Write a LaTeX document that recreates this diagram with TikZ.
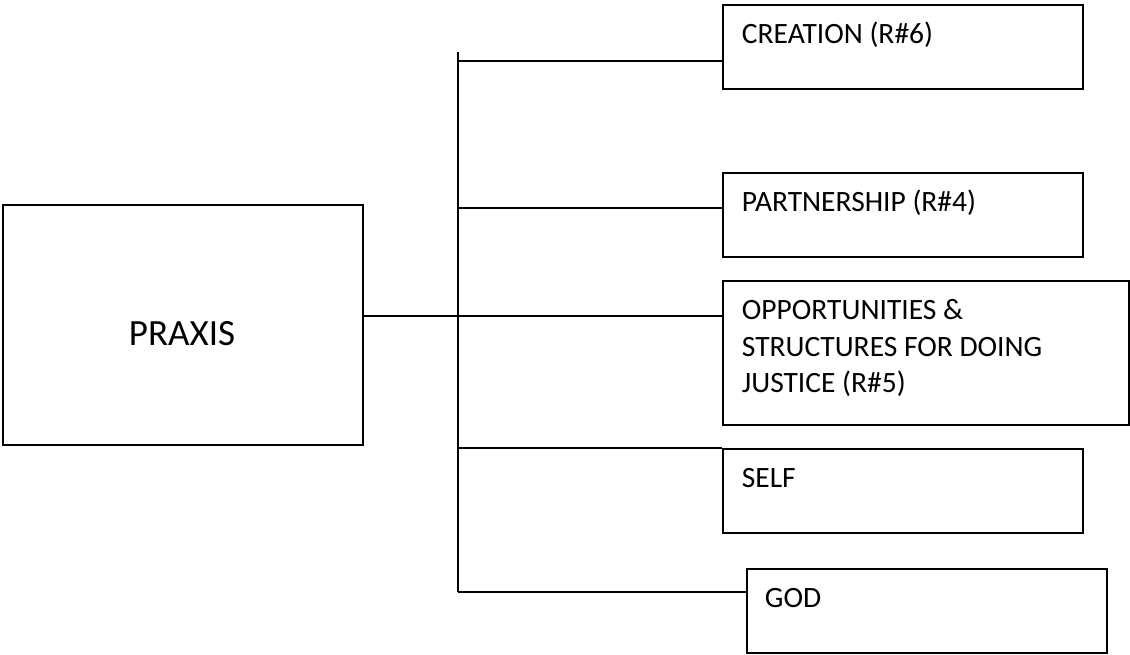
\documentclass[tikz,border=0pt]{standalone}
\usepackage{fontspec}
\setmainfont{Carlito}
\usetikzlibrary{positioning}

\begin{document}
\begin{tikzpicture}[x=1pt, y=-1pt, line width=1.8pt,
    box/.style={draw, rectangle, anchor=north west, inner sep=0pt,
        minimum width=360pt, minimum height=84pt},
    lbl/.style={inner sep=0pt, align=left,
        font=\fontsize{29.5}{36.5}\selectfont}]

    \useasboundingbox (0,0) rectangle (1130,654);

    % left box
    \node[box, minimum height=240pt] (praxis) at (2,204) {};
    \node[anchor=base, font=\fontsize{37}{45}\selectfont] (praxis-t) at (182,345) {PRAXIS};

    % boxes on the right
    \node[box] (creation) at (722,4) {};
    \node[box] (partner) at (722,172) {};
    \node[box, minimum width=406pt, minimum height=144pt] (justice) at (722,280) {};
    \node[box] (self) at (722,448) {};
    \node[box] (god) at (746,568) {};

    \node[lbl, below right=13.5pt and 19pt of creation.north west] (creation-t) {\strut CREATION (R\#6)};
    \node[lbl, below right=13.5pt and 19pt of partner.north west] (partner-t) {\strut PARTNERSHIP (R\#4)};
    \node[lbl, below right=13.5pt and 19pt of justice.north west] (justice-t) {\strut OPPORTUNITIES \&\\ STRUCTURES FOR DOING\\ JUSTICE (R\#5)};
    \node[lbl, below right=13.5pt and 19pt of self.north west] (self-t) {\strut SELF};
    \node[lbl, below right=13.5pt and 18pt of god.north west] (god-t) {\strut GOD};

    % the trunk and its branches
    \coordinate (top) at (458,52);
    \coordinate (j1) at (458,61);
    \coordinate (j2) at (458,208);
    \coordinate (j3) at (458,316);
    \coordinate (j4) at (458,448);
    \coordinate (j5) at (458,592);

    \draw (top) -- (j5);
    \draw (praxis.east |- j3) -- (j3) -- (j3 -| justice.west);
    \draw (j1) -- (j1 -| creation.west);
    \draw (j2) -- (j2 -| partner.west);
    \draw (j4) -- (j4 -| self.west);
    \draw (j5) -- (j5 -| god.west);

\end{tikzpicture}
\end{document}
